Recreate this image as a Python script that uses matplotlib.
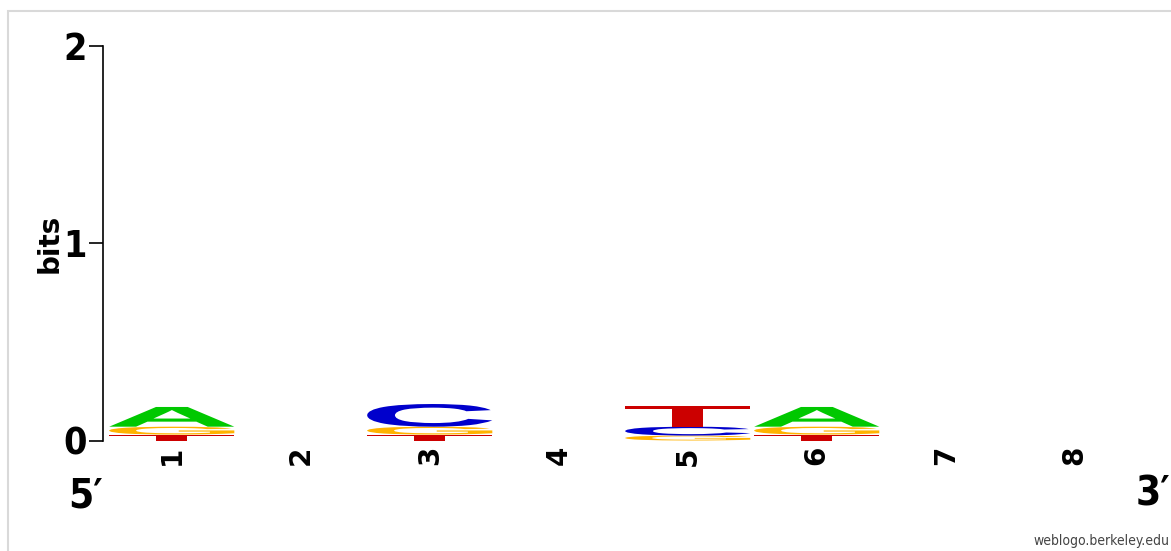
import matplotlib
matplotlib.use("Agg")
import matplotlib.pyplot as plt
from matplotlib import font_manager
from matplotlib.textpath import TextPath
from matplotlib.patches import PathPatch, Rectangle
from matplotlib.font_manager import FontProperties
from matplotlib.transforms import Affine2D

# information content (bits) per base at each position
positions = [1, 2, 3, 4, 5, 6, 7, 8]
bits_A = [0.10, 0.0, 0.0, 0.0, 0.0, 0.10, 0.0, 0.0]
bits_C = [0.0, 0.0, 0.115, 0.0, 0.045, 0.0, 0.0, 0.0]
bits_G = [0.04, 0.0, 0.04, 0.0, 0.025, 0.04, 0.0, 0.0]
bits_T = [0.03, 0.0, 0.03, 0.0, 0.105, 0.03, 0.0, 0.0]
y_ticks = [0, 1, 2]

colors = {"A": "#00c800", "C": "#0000cc", "G": "#ffb300", "T": "#cc0000"}
glyph_font = FontProperties(family="Liberation Sans", weight="bold")


def condensed_face(bold):
    """Pick a condensed face (bold or regular) if one is installed."""
    want = ("700", "600", "bold") if bold else ("400", "normal", "regular", "book")
    faces = [f for f in font_manager.fontManager.ttflist
             if str(f.stretch) in ("condensed", "semi-condensed", "extra-condensed")
             and str(f.weight) in want and str(f.style) == "normal"]
    faces.sort(key=lambda f: (0 if "DejaVu" in f.name else 1, f.name))
    if faces:
        return FontProperties(fname=faces[0].fname)
    return FontProperties(family="Liberation Sans", weight="bold" if bold else "normal")


num_font = condensed_face(True)
small_font = condensed_face(False)

W, H = 1171, 551
fig = plt.figure(figsize=(W / 100, H / 100), dpi=100)
ax = fig.add_axes([103 / W, (H - 440.5) / H, (1140 - 103) / W, (440.5 - 46) / H])
ax.set_xlim(0.467, 8.506)
ax.set_ylim(0, 2)


def draw_letter(ax, ch, x, y, w, h):
    tp = TextPath((0, 0), ch, size=1, prop=glyph_font)
    ext = tp.get_extents()
    tr = (Affine2D().translate(-ext.x0, -ext.y0)
          .scale(w / ext.width, h / ext.height)
          .translate(x - w / 2, y))
    ax.add_patch(PathPatch(tr.transform_path(tp), facecolor=colors[ch],
                           edgecolor="none"))


col_w = 0.97
for i, pos in enumerate(positions):
    stack = [("A", bits_A[i]), ("C", bits_C[i]), ("G", bits_G[i]), ("T", bits_T[i])]
    stack = sorted([s for s in stack if s[1] > 0], key=lambda s: s[1])
    y = 0.0
    for ch, h in stack:
        draw_letter(ax, ch, pos, y, col_w, h)
        y += h

for side in ["top", "right", "bottom"]:
    ax.spines[side].set_visible(False)
ax.spines["left"].set_linewidth(1.2)

ax.set_yticks(y_ticks)
ax.tick_params(axis="y", length=10, width=1.2, pad=1.5)
for lab in ax.get_yticklabels():
    lab.set_fontproperties(num_font)
    lab.set_fontsize(27)

ax.set_xticks(positions, labels=[str(p) for p in positions])
ax.tick_params(axis="x", length=0, pad=4, labelrotation=90, labelsize=20)
for lab in ax.get_xticklabels():
    lab.set_fontfamily("DejaVu Sans")
    lab.set_fontweight("bold")

fig.text(50 / W, 1 - 243.5 / H, "bits", rotation=90, ha="center", va="center",
         fontsize=20, fontweight="bold", family="DejaVu Sans")
fig.text(86 / W, 1 - 496 / H, "5\u2032", ha="center", va="center",
         fontproperties=num_font, fontsize=29)
fig.text(1170 / W, 1 - 495 / H, "3\u2032", ha="right", va="center",
         fontproperties=num_font, fontsize=29)
fig.text(1169 / W, 1 - 541 / H, "weblogo.berkeley.edu", ha="right", va="center",
         fontproperties=small_font, fontsize=10, color="#444444")

fig.add_artist(Rectangle((8 / W, -0.1), 1.2, (H - 11) / H + 0.1,
                         transform=fig.transFigure, fill=False,
                         edgecolor="#d9d9d9", lw=1.5))

fig.savefig("out.png", dpi=100)
